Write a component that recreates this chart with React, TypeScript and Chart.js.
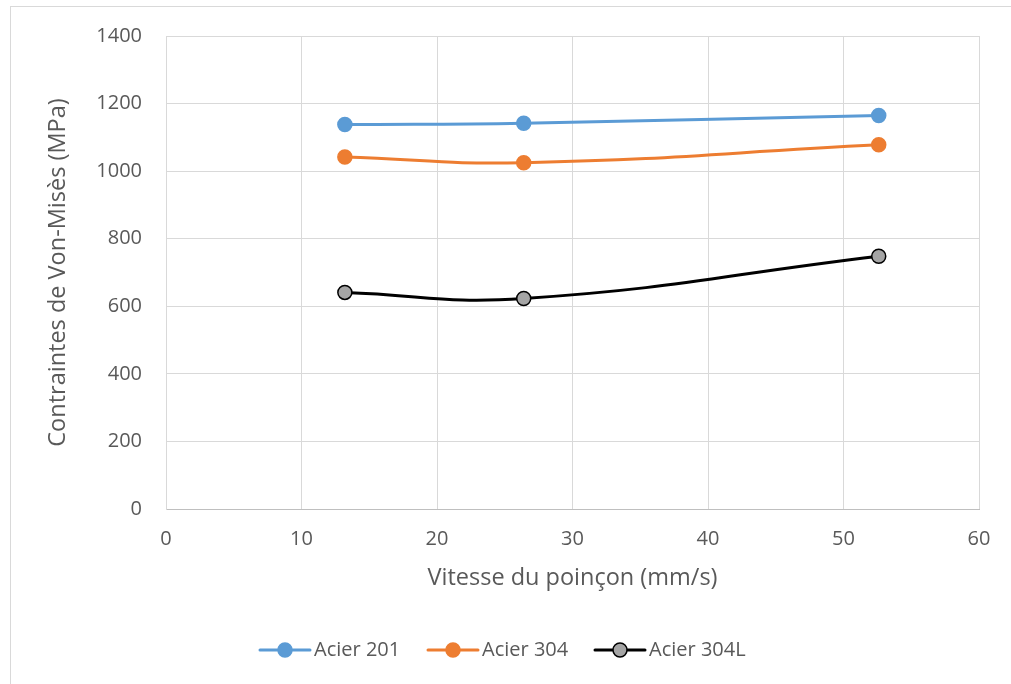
import React, { useEffect, useRef } from "react";
import { Chart, registerables } from "chart.js";

Chart.register(...registerables);

// Punch speed (mm/s)
const speeds = [13.2, 26.4, 52.6];
// Von Mises stress (MPa) per steel grade
const acier201 = [1138, 1142, 1165];
const acier304 = [1042, 1025, 1078];
const acier304L = [641, 623, 748];

const seriesNames = ["Acier 201", "Acier 304", "Acier 304L"];
const lineColors = ["#5B9BD5", "#ED7D31", "#000000"];
const markerFills = ["#5B9BD5", "#ED7D31", "#A5A5A5"];
const markerBorders = ["#5B9BD5", "#ED7D31", "#000000"];

const xTitle = "Vitesse du poinçon (mm/s)";
const yTitle = "Contraintes de Von-Misès (MPa)";

const FONT = "'Open Sans', sans-serif";
const TEXT = "#595959";

const toPoints = (ys: number[]) => speeds.map((x, i) => ({ x, y: ys[i] }));

// Outer frame and the line-with-marker legend below the plot
const frameAndLegend = {
  id: "frameAndLegend",
  beforeDraw(chart: any) {
    const ctx = chart.ctx;
    ctx.save();
    ctx.fillStyle = "#ffffff";
    ctx.fillRect(0, 0, chart.width, chart.height);
    ctx.strokeStyle = "#d9d9d9";
    ctx.lineWidth = 1;
    ctx.strokeRect(10.5, 6.5, chart.width + 10, chart.height + 10);
    ctx.restore();
  },
  afterDraw(chart: any) {
    const ctx = chart.ctx;
    const y = 650;
    const starts = [260, 428, 595];
    ctx.save();
    ctx.font = `20px ${FONT}`;
    ctx.textBaseline = "middle";
    ctx.textAlign = "left";
    seriesNames.forEach((name, i) => {
      const x0 = starts[i];
      ctx.strokeStyle = lineColors[i];
      ctx.lineWidth = 3;
      ctx.lineCap = "round";
      ctx.beginPath();
      ctx.moveTo(x0, y);
      ctx.lineTo(x0 + 50, y);
      ctx.stroke();
      ctx.beginPath();
      ctx.arc(x0 + 25, y, 7, 0, Math.PI * 2);
      ctx.fillStyle = markerFills[i];
      ctx.fill();
      ctx.lineWidth = 1.5;
      ctx.strokeStyle = markerBorders[i];
      ctx.stroke();
      ctx.fillStyle = TEXT;
      ctx.fillText(name, x0 + 54, y);
    });
    ctx.restore();
  },
};

export default function App() {
  const ref = useRef<HTMLCanvasElement | null>(null);

  useEffect(() => {
    if (!ref.current) return;
    const data = [acier201, acier304, acier304L];
    const chart = new Chart(ref.current, {
      type: "scatter",
      data: {
        datasets: data.map((ys, i) => ({
          label: seriesNames[i],
          data: toPoints(ys),
          showLine: true,
          borderColor: lineColors[i],
          backgroundColor: markerFills[i],
          borderWidth: 3,
          tension: 0.45,
          pointRadius: 7,
          pointHoverRadius: 7,
          pointBackgroundColor: markerFills[i],
          pointBorderColor: markerBorders[i],
          pointBorderWidth: 1.5,
        })),
      },
      options: {
        animation: false,
        responsive: false,
        devicePixelRatio: 1,
        layout: { padding: { left: 0, right: 32, top: 35, bottom: 0 } },
        plugins: {
          legend: { display: false },
          tooltip: { enabled: false },
        },
        scales: {
          x: {
            type: "linear",
            min: 0,
            max: 60,
            afterFit: (scale: any) => {
              scale.height = 175;
            },
            ticks: {
              stepSize: 10,
              color: TEXT,
              font: { family: FONT, size: 20 },
              padding: 18,
              callback: (v: any) => String(v),
            },
            grid: { color: "#d9d9d9", lineWidth: 1, drawTicks: false },
            border: { color: "#bfbfbf" },
            title: {
              display: true,
              text: xTitle,
              color: TEXT,
              font: { family: FONT, size: 23.5 },
              padding: { top: 0, bottom: 92 },
            },
          },
          y: {
            min: 0,
            max: 1400,
            afterFit: (scale: any) => {
              scale.width = 166;
            },
            ticks: {
              stepSize: 200,
              color: TEXT,
              font: { family: FONT, size: 20 },
              padding: 24,
              callback: (v: any) => String(v),
            },
            grid: { color: "#d9d9d9", lineWidth: 1, drawTicks: false },
            border: { color: "#d9d9d9" },
            title: {
              display: true,
              text: yTitle,
              color: TEXT,
              font: { family: FONT, size: 23.5 },
              padding: { top: 44, bottom: 0 },
            },
          },
        },
      },
      plugins: [frameAndLegend],
    });
    return () => chart.destroy();
  }, []);

  return (
    <div style={{ position: "fixed", left: 0, top: 0, width: 1011, height: 684 }}>
      <canvas ref={ref} width={1011} height={684} style={{ display: "block" }} />
    </div>
  );
}
